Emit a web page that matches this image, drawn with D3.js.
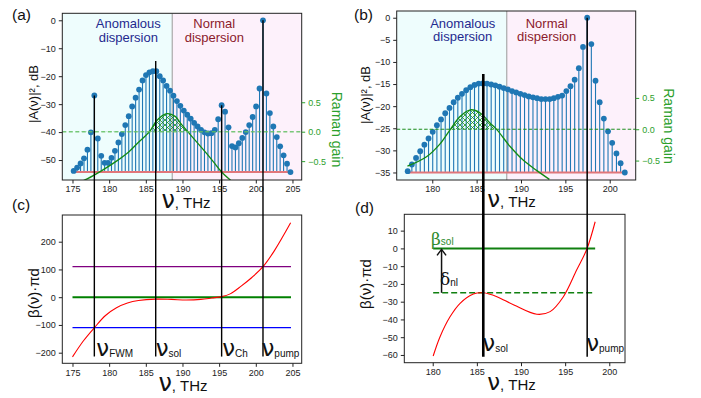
<!DOCTYPE html>
<html><head><meta charset="utf-8">
<script src="https://cdn.jsdelivr.net/npm/d3@7"></script>
<style>body{margin:0;background:#fff} text{font-family:"Liberation Sans",sans-serif}</style>
</head><body><script>
// ---------- DATA ----------
const freqA=[175.16,175.63,176.10,176.57,177.04,177.51,177.98,178.45,178.92,179.38,179.85,180.32,180.79,181.26,181.73,182.20,182.67,183.14,183.61,184.08,184.55,185.02,185.49,185.96,186.43,186.90,187.36,187.83,188.30,188.77,189.24,189.71,190.18,190.65,191.12,191.59,192.06,192.53,193.00,193.47,193.94,194.41,194.87,195.34,195.81,196.28,196.75,197.22,197.69,198.16,198.63,199.10,199.57,200.04,200.51,200.98,201.45,201.92,202.39,202.86,203.32,203.79,204.26,204.73];
const dbA=[-53.9,-52.7,-51.2,-49.4,-46.3,-40.1,-26.9,-42.3,-48.5,-51.0,-51.0,-49.2,-46.7,-43.7,-40.7,-37.5,-34.3,-30.8,-27.7,-24.8,-21.5,-19.6,-18.6,-18.2,-18.2,-20.0,-21.5,-23.5,-25.2,-27.0,-28.9,-30.6,-32.3,-33.8,-35.2,-36.7,-38.0,-39.2,-40.1,-40.5,-40.4,-39.2,-35.4,-30.4,-32.7,-38.3,-45.0,-45.5,-44.0,-42.1,-40.0,-37.5,-34.6,-30.8,-24.4,0,-26.2,-33.2,-38.0,-41.8,-45.1,-48.3,-51.3,-54.3];
const baseA=-54.3;
const freqB=[177.23,177.70,178.17,178.64,179.11,179.58,180.05,180.52,180.99,181.46,181.94,182.41,182.88,183.35,183.82,184.29,184.76,185.23,185.70,186.17,186.64,187.11,187.58,188.05,188.52,188.99,189.46,189.93,190.40,190.87,191.35,191.82,192.29,192.76,193.23,193.70,194.17,194.64,195.11,195.58,196.05,196.52,196.99,197.46,197.93,198.40,198.87,199.34,199.81,200.28,200.76,201.23,201.70];
const dbB=[-34.7,-33.2,-31.7,-30.2,-28.7,-27.3,-25.8,-24.3,-23.0,-21.6,-20.4,-19.1,-18.1,-17.2,-16.4,-15.7,-15.2,-14.9,-14.85,-14.9,-15.1,-15.3,-15.6,-15.9,-16.2,-16.6,-16.9,-17.2,-17.5,-17.8,-18.0,-18.2,-18.4,-18.4,-18.4,-18.2,-17.9,-17.6,-16.6,-15.5,-14.0,-11.4,-6.6,0,-5.95,-14.25,-19.1,-22.8,-25.7,-28.3,-30.7,-32.9,-35.0];
const baseB=-35.0;
const ramanA=[[175.2,-0.9],[177,-0.8],[179,-0.66],[181,-0.5],[182.7,-0.34],[184,-0.18],[185.5,0.0],[186.5,0.19],[187.85,0.305],[189,0.26],[189.7,0.15],[191,-0.04],[192.4,-0.24],[193.9,-0.46],[195.3,-0.68],[196.9,-0.86]];
const ramanB=[[177.2,-0.59],[179.35,-0.44],[180.9,-0.23],[182,-0.01],[183.1,0.2],[184.3,0.31],[185.4,0.26],[186.5,0.1],[187.3,-0.01],[188.8,-0.28],[190.3,-0.5],[191.8,-0.66],[193.2,-0.8]];
const betaC=[[175.0,-215],[176.5,-157],[177.98,-110],[179.5,-66],[181,-38],[182.5,-21],[184,-12],[186.35,-7],[188.5,-8],[190.5,-10],[192.5,-8],[194,-3],[195.34,2],[196.5,12],[198,40],[199.5,72],[200.98,110],[202.5,166],[204.75,268]];
const betaD=[[180.05,-60.6],[180.83,-49.7],[181.96,-38.5],[183.1,-30.9],[184.6,-25.7],[185.75,-25],[187.27,-27.2],[189.2,-31.9],[191.8,-37.1],[193.3,-35.6],[194.8,-27.2],[196.3,-12.2],[197.45,-0.5],[198.4,15]];
const hLinesC=[{v:110,c:"#800080",w:1.2},{v:0,c:"#008000",w:2},{v:-110,c:"#0000ff",w:1.2}];
const hRangeC=[175,204.8];
const hRangeD=[180.05,198.4];
const solD=0, nlD=-25;
const dividerA=188.6, dividerB=188.4;
const linesAC=[{f:177.98,top:-26.9,lab:"FWM",dx:2},{f:186.35,top:-14.6,lab:"sol",dx:0},{f:195.34,top:-30.4,lab:"Ch",dx:0.5},{f:200.98,top:0,lab:"pump",dx:-1.5}];
const lineBottomC=-214;
const linesBD=[{f:185.75,top:-12.7,lab:"sol",w:2.6,dx:-1},{f:197.46,top:0,lab:"pump",w:1.5,dx:-1}];
const lineBottomD=-61;
const xTicksA=[175,180,185,190,195,200,205];
const yTicksA=[0,-10,-20,-30,-40,-50];
const gTicks=[0.5,0,-0.5];
const xTicksB=[180,185,190,195,200];
const yTicksB=[0,-5,-10,-15,-20,-25,-30,-35];
const yTicksC=[200,100,0,-100,-200];
const yTicksD=[10,0,-10,-20,-30,-40,-50,-60];

// ---------- DRAW ----------
const svg=d3.select("body").append("svg").attr("width",701).attr("height",398);
const defs=svg.append("defs");
const pat=defs.append("pattern").attr("id","hatch").attr("patternUnits","userSpaceOnUse").attr("width",5).attr("height",5);
pat.append("path").attr("d","M0,0L5,5M5,0L0,5M-1,4L1,6M4,-1L6,1M-1,1L1,-1M4,6L6,4").attr("stroke","#1d8f1d").attr("stroke-width",0.8).attr("fill","none");

let cid=0;
function panel(R,xd,yd){
  const x=d3.scaleLinear(xd,[R.l,R.r]);
  const y=d3.scaleLinear(yd,[R.b,R.t]);
  const id="clip"+(cid++);
  defs.append("clipPath").attr("id",id).append("rect").attr("x",R.l).attr("y",R.t).attr("width",R.r-R.l).attr("height",R.b-R.t);
  const g=svg.append("g");
  const inner=g.append("g").attr("clip-path",`url(#${id})`);
  return {x,y,g,inner,R};
}
function styleAxis(s,color){
  s.select(".domain").remove();
  s.attr("font-family","Liberation Sans").attr("font-size",9);
  s.selectAll("line").attr("stroke",color||"#222");
  s.selectAll("text").attr("fill",color||"#222");
}
function axes(P,xt,yt){
  P.g.append("g").attr("transform",`translate(0,${P.R.b})`)
    .call(d3.axisBottom(P.x).tickValues(xt).tickSize(3.5).tickPadding(2.5).tickFormat(d3.format("d")))
    .call(s=>styleAxis(s));
  P.g.append("g").attr("transform",`translate(${P.R.l},0)`)
    .call(d3.axisLeft(P.y).tickValues(yt).tickSize(3.5).tickPadding(3).tickFormat(d3.format("d")))
    .call(s=>styleAxis(s));
}
function frame(P){
  P.g.append("rect").attr("x",P.R.l).attr("y",P.R.t).attr("width",P.R.r-P.R.l).attr("height",P.R.b-P.R.t)
   .attr("fill","none").attr("stroke","#222").attr("stroke-width",1);
}
function xlabel(cx,by,nuSize){
  const t=svg.append("text").attr("x",cx).attr("y",by).attr("text-anchor","middle").attr("fill","#111");
  t.append("tspan").attr("font-size",nuSize||24).attr("font-family","DejaVu Sans").text("ν");
  t.append("tspan").attr("font-size",15).text(", THz");
}
function rotLabel(x,y,txt,size,color,fam,ang){
  svg.append("text").attr("transform",`translate(${x},${y}) rotate(${ang})`).attr("text-anchor","middle")
    .attr("dominant-baseline","central").attr("font-size",size).attr("fill",color).attr("font-family",fam).text(txt);
}
function nuLabel(x,y,sub,size){
  const t=svg.append("text").attr("x",x).attr("y",y).attr("fill","#111");
  t.append("tspan").attr("font-size",size||23).attr("font-family","DejaVu Sans").text("ν");
  t.append("tspan").attr("font-size",10).attr("dy",1).text(sub);
}
function spectrum(P,G,freq,db,base,divider,raman,textCx,textY){
  const R=P.R, I=P.inner;
  I.append("rect").attr("x",R.l).attr("y",R.t).attr("width",P.x(divider)-R.l).attr("height",R.b-R.t).attr("fill","#eefdfd");
  I.append("rect").attr("x",P.x(divider)).attr("y",R.t).attr("width",R.r-P.x(divider)).attr("height",R.b-R.t).attr("fill","#fdf1fb");
  I.append("line").attr("x1",P.x(divider)).attr("x2",P.x(divider)).attr("y1",R.t).attr("y2",R.b).attr("stroke","#9a9a9a").attr("stroke-width",1);
  I.selectAll(".stem").data(freq).join("line").attr("x1",d=>P.x(d)).attr("x2",d=>P.x(d))
    .attr("y1",P.y(base)).attr("y2",(d,i)=>P.y(db[i])).attr("stroke","#1f77b4").attr("stroke-width",1.1);
  I.append("line").attr("x1",P.x(freq[0])).attr("x2",P.x(freq[freq.length-1])).attr("y1",P.y(base)).attr("y2",P.y(base))
    .attr("stroke","#e0767a").attr("stroke-width",2);
  I.selectAll(".mk").data(freq).join("circle").attr("cx",d=>P.x(d)).attr("cy",(d,i)=>P.y(db[i])).attr("r",2.9).attr("fill","#1f77b4");
  // raman
  const id="clipPos"+(cid++);
  defs.append("clipPath").attr("id",id).append("rect").attr("x",R.l).attr("y",R.t).attr("width",R.r-R.l).attr("height",G(0)-R.t);
  const cur=d3.curveCatmullRom.alpha(0.5);
  I.append("g").attr("clip-path",`url(#${id})`).append("path").datum(raman)
    .attr("d",d3.area().x(d=>P.x(d[0])).y0(G(0)).y1(d=>G(d[1])).curve(cur)).attr("fill","url(#hatch)");
  I.append("path").datum(raman).attr("d",d3.line().x(d=>P.x(d[0])).y(d=>G(d[1])).curve(cur))
    .attr("fill","none").attr("stroke","#128a12").attr("stroke-width",1.3);
  // texts
  [["Anomalous","dispersion",textCx[0],"#1f2a8f"],["Normal","dispersion",textCx[1],"#8b1a2b"]].forEach(t=>{
    P.g.append("text").attr("text-anchor","middle").attr("font-size",13).attr("fill",t[3]).attr("x",t[2]).attr("y",textY[0]).text(t[0]);
    P.g.append("text").attr("text-anchor","middle").attr("font-size",13).attr("fill",t[3]).attr("x",t[2]).attr("y",textY[1]).text(t[1]);
  });
}
function rightAxis(P,G){
  P.g.append("g").attr("transform",`translate(${P.R.r},0)`)
    .call(d3.axisRight(G).tickValues(gTicks).tickSize(3.5).tickPadding(3).tickFormat(d3.format(".1f")))
    .call(s=>styleAxis(s,"#2ca02c"));
}

// Panel (a)
const A=panel({l:62.3,t:13.3,r:301.7,b:180},[173.61,206.26],[-57.14,2.5]);
const GA=d3.scaleLinear([-0.82,2.01],[180,13.3]);
spectrum(A,GA,freqA,dbA,baseA,dividerA,ramanA,[128.3,214.3],[28,41.5]);
A.inner.append("line").attr("x1",A.R.l).attr("x2",A.R.r).attr("y1",GA(0)).attr("y2",GA(0))
  .attr("stroke","#63c063").attr("stroke-width",1.4).attr("stroke-dasharray","4,2.5").attr("opacity",0.85);
frame(A); axes(A,xTicksA,yTicksA); rightAxis(A,GA);

// Panel (b)
const B=panel({l:396.7,t:11,r:635.7,b:180},[175.99,202.93],[-36.7,1.52]);
const GB=d3.scaleLinear([-0.81,1.887],[180,11]);
spectrum(B,GB,freqB,dbB,baseB,dividerB,ramanB,[462.7,546.7],[27.5,41]);
B.inner.append("line").attr("x1",B.R.l).attr("x2",B.R.r).attr("y1",GB(0)).attr("y2",GB(0))
  .attr("stroke","#1f8f1f").attr("stroke-width",1).attr("stroke-dasharray","3.5,2");
frame(B); axes(B,xTicksB,yTicksB); rightAxis(B,GB);

// Panel (c)
const C=panel({l:62.3,t:215,r:301.7,b:363.3},[173.61,206.26],[-238.2,296.2]);
hLinesC.forEach(h=>C.inner.append("line").attr("x1",C.x(hRangeC[0])).attr("x2",C.x(hRangeC[1])).attr("y1",C.y(h.v)).attr("y2",C.y(h.v)).attr("stroke",h.c).attr("stroke-width",h.w));
C.inner.append("path").datum(betaC).attr("d",d3.line().x(d=>C.x(d[0])).y(d=>C.y(d[1])).curve(d3.curveCatmullRom.alpha(0.5)))
  .attr("fill","none").attr("stroke","#ff0000").attr("stroke-width",1.1);
frame(C); axes(C,xTicksA,yTicksC);

// Panel (d)
const D=panel({l:404.3,t:214.3,r:625,b:362.7},[176.78,201.78],[-64.36,19.2]);
D.inner.append("line").attr("x1",D.x(hRangeD[0])).attr("x2",D.x(hRangeD[1])).attr("y1",D.y(solD)).attr("y2",D.y(solD)).attr("stroke","#108010").attr("stroke-width",2);
D.inner.append("line").attr("x1",D.x(hRangeD[0])).attr("x2",D.x(hRangeD[1])).attr("y1",D.y(nlD)).attr("y2",D.y(nlD)).attr("stroke","#108010").attr("stroke-width",1.4).attr("stroke-dasharray","6,3");
D.inner.append("path").datum(betaD).attr("d",d3.line().x(d=>D.x(d[0])).y(d=>D.y(d[1])).curve(d3.curveCatmullRom.alpha(0.5)))
  .attr("fill","none").attr("stroke","#ff0000").attr("stroke-width",1.1);
// arrow delta_nl
const ax=D.x(181);
D.g.append("line").attr("x1",ax).attr("x2",ax).attr("y1",D.y(nlD)).attr("y2",D.y(solD)+1).attr("stroke","#111").attr("stroke-width",1.5);
D.g.append("path").attr("d",`M${ax-4.5},${D.y(solD)+7}L${ax},${D.y(solD)+1}L${ax+4.5},${D.y(solD)+7}`).attr("fill","none").attr("stroke","#111").attr("stroke-width",1.5);
const tb=D.g.append("text").attr("x",431).attr("y",245).attr("fill","#2e8b2e");
tb.append("tspan").attr("font-size",17).attr("font-family","DejaVu Serif").text("β");
tb.append("tspan").attr("font-size",10).text("sol");
const td=D.g.append("text").attr("x",440).attr("y",285).attr("fill","#111");
td.append("tspan").attr("font-size",17).attr("font-family","DejaVu Serif").text("δ");
td.append("tspan").attr("font-size",10).attr("dy",1).text("nl");
frame(D); axes(D,xTicksB,yTicksD);

// vertical marker lines
linesAC.forEach(l=>{
  svg.append("line").attr("x1",A.x(l.f)).attr("x2",A.x(l.f)).attr("y1",A.y(l.top)).attr("y2",C.y(lineBottomC)).attr("stroke","#000").attr("stroke-width",1.4);
  nuLabel(A.x(l.f)+l.dx,355.5,l.lab,23);
});
linesBD.forEach(l=>{
  svg.append("line").attr("x1",B.x(l.f)).attr("x2",B.x(l.f)).attr("y1",B.y(l.top)).attr("y2",D.y(lineBottomD)).attr("stroke","#000").attr("stroke-width",l.w);
  nuLabel(B.x(l.f)+l.dx,351,l.lab,23);
});

// axis labels
xlabel(186,208); xlabel(183,391); xlabel(511.5,207,23); xlabel(511.5,390,23);
rotLabel(33,94,"|A(ν)|², dB",13,"#111","Liberation Serif",-90);
rotLabel(365,95,"|A(ν)|², dB",13,"#111","Liberation Serif",-90);
rotLabel(337,129.5,"Raman gain",14,"#2ca02c","Liberation Sans",90);
rotLabel(669,126,"Raman gain",14,"#2ca02c","Liberation Sans",90);
rotLabel(33,293,"β(ν)·πd",15,"#111","Liberation Serif",-90);
rotLabel(365,284,"β(ν)·πd",15,"#111","Liberation Serif",-90);
// panel letters
[["(a)",12,19.5],["(b)",354,19.5],["(c)",12,210],["(d)",355,213]].forEach(p=>
  svg.append("text").attr("x",p[1]).attr("y",p[2]).attr("font-size",15.5).attr("fill","#111").text(p[0]));
</script></body></html>
